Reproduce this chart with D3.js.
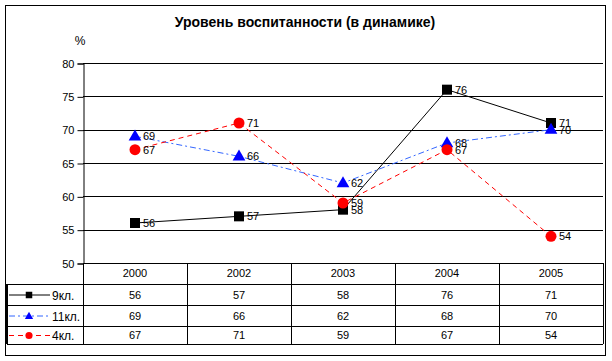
<!DOCTYPE html>
<meta charset="utf-8">
<head>
    <title>Уровень воспитанности</title>
    <script type="text/javascript" src="https://cdn.jsdelivr.net/npm/d3@7"></script>
    <style>
        body { margin: 0; background: #fff; }
        text { font-family: "Liberation Sans", Arial, sans-serif; }
    </style>
</head>
<body>
    <div id="chart"></div>
    <script>
        // data
        var years = ["2000", "2002", "2003", "2004", "2005"]
        var seriesNames = ["9кл.", "11кл.", "4кл."]
        var vals9 = [56, 57, 58, 76, 71]
        var vals11 = [69, 66, 62, 68, 70]
        var vals4 = [67, 71, 59, 67, 54]
        var yTicks = [50, 55, 60, 65, 70, 75, 80]

        var series = [
          {name: seriesNames[0], values: vals9, color: "#000000", line: "#000000", dash: null, shape: "square"},
          {name: seriesNames[1], values: vals11, color: "#0000ff", line: "#3366ff", dash: "6,3,2,3", shape: "triangle"},
          {name: seriesNames[2], values: vals4, color: "#ff0000", line: "#ff0000", dash: "5,4", shape: "circle"}
        ]

        var width = 612, height = 361
        var plot = {left: 83, right: 603, top: 63, bottom: 263}
        var rowH = [21, 21, 21, 18]

        var svg = d3.select("#chart").append("svg")
          .attr("width", width).attr("height", height)

        // outer border
        svg.append("rect").attr("x", 5.5).attr("y", 5.5)
          .attr("width", 600).attr("height", 350)
          .attr("fill", "none").attr("stroke", "#000").attr("stroke-width", 1)

        svg.append("text").attr("x", 305).attr("y", 27)
          .attr("text-anchor", "middle").attr("font-weight", "bold").attr("font-size", "14px")
          .text("Уровень воспитанности (в динамике)")

        svg.append("text").attr("x", 80).attr("y", 45)
          .attr("text-anchor", "middle").attr("font-size", "12px").text("%")

        var x = d3.scaleBand().domain(years).range([plot.left, plot.right])
        var y = d3.scaleLinear().domain([50, 80]).range([plot.bottom, plot.top])

        // gridlines
        svg.append("g").selectAll("line").data(yTicks).enter().append("line")
          .attr("x1", plot.left).attr("x2", plot.right)
          .attr("y1", d => Math.round(y(d)) + 0.5).attr("y2", d => Math.round(y(d)) + 0.5)
          .attr("stroke", "#000").attr("stroke-width", 1)

        // y axis
        var yAxis = svg.append("g")
          .attr("transform", "translate(" + (plot.left + 0.5) + ",0.5)")
          .call(d3.axisLeft(y).tickValues(yTicks).tickSize(6).tickPadding(3))
        yAxis.selectAll("text").attr("font-size", "11px").attr("fill", "#000")
          .style("font-family", "Liberation Sans, Arial, sans-serif")
        yAxis.select(".domain").attr("stroke", "#000")
        yAxis.selectAll(".tick line").attr("stroke", "#000")

        // data table
        var table = svg.append("g")
        var rowTops = [plot.bottom]
        rowH.forEach(function(h, i){ rowTops.push(rowTops[i] + h) })
        // horizontal lines
        for (var r = 1; r <= 4; r++) {
          var yy = rowTops[r] + 0.5
          table.append("line").attr("x1", 7).attr("x2", plot.right)
            .attr("y1", yy).attr("y2", yy).attr("stroke", "#000")
        }
        // vertical lines
        years.forEach(function(yr, i){
          var xx = Math.round(x(yr)) + 0.5
          table.append("line").attr("x1", xx).attr("x2", xx)
            .attr("y1", plot.bottom).attr("y2", rowTops[4]).attr("stroke", "#000")
        })
        table.append("line").attr("x1", plot.right + 0.5).attr("x2", plot.right + 0.5)
          .attr("y1", plot.bottom).attr("y2", rowTops[4]).attr("stroke", "#000")
        table.append("line").attr("x1", 7).attr("x2", 7)
          .attr("y1", rowTops[1]).attr("y2", rowTops[4]).attr("stroke", "#000").attr("stroke-width", 2)

        // header years
        table.selectAll(".yr").data(years).enter().append("text")
          .attr("x", d => x(d) + x.bandwidth() / 2).attr("y", rowTops[0] + 14)
          .attr("text-anchor", "middle").attr("font-size", "11px").text(d => d)

        function drawMarker(g, shape, cx, cy, color, k) {
          if (shape === "square") {
            g.append("rect").attr("x", cx - 5 * k).attr("y", cy - 5 * k).attr("width", 10 * k).attr("height", 10 * k).attr("fill", color)
          } else if (shape === "triangle") {
            g.append("path").attr("d", d3.symbol().type(d3.symbolTriangle).size(70 * k * k)())
              .attr("transform", "translate(" + cx + "," + (cy + 0.5) + ")").attr("fill", color)
          } else {
            g.append("circle").attr("cx", cx).attr("cy", cy).attr("r", 5.5 * k).attr("fill", color)
          }
        }

        series.forEach(function(s, i){
          var top = rowTops[i + 1], mid = top + rowH[i + 1] / 2
          // legend key
          table.append("line").attr("x1", 9).attr("x2", 50).attr("y1", mid + 0.5).attr("y2", mid + 0.5)
            .attr("stroke", s.line).attr("stroke-dasharray", s.dash)
          drawMarker(table, s.shape, 29, mid + 0.5, s.color, 0.65)
          table.append("text").attr("x", 52).attr("y", mid + 5)
            .attr("font-size", "12px").text(s.name)
          // values
          table.selectAll(null).data(s.values).enter().append("text")
            .attr("x", (d, j) => x(years[j]) + x.bandwidth() / 2).attr("y", mid + 4)
            .attr("text-anchor", "middle").attr("font-size", "11px").text(d => d)
        })

        // series lines, markers, labels
        var line = d3.line().x((d, j) => x(years[j]) + x.bandwidth() / 2).y(d => y(d))
        series.forEach(function(s){
          var g = svg.append("g")
          g.append("path").datum(s.values).attr("d", line)
            .attr("fill", "none").attr("stroke", s.line).attr("stroke-width", 1)
            .attr("stroke-dasharray", s.dash)
          s.values.forEach(function(v, j){
            drawMarker(g, s.shape, x(years[j]) + x.bandwidth() / 2, y(v), s.color, 1)
          })
          g.selectAll("text").data(s.values).enter().append("text")
            .attr("x", (d, j) => x(years[j]) + x.bandwidth() / 2 + 8)
            .attr("y", d => y(d) + 4)
            .attr("font-size", "11px").text(d => d)
        })
    </script>
</body>
</html>
